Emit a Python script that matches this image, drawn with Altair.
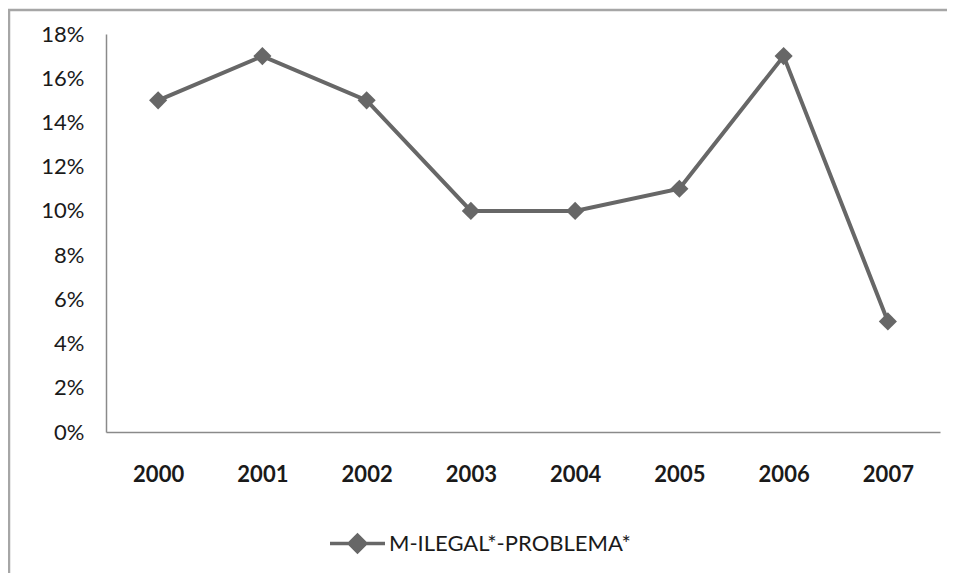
import altair as alt
import pandas as pd

years = ["2000", "2001", "2002", "2003", "2004", "2005", "2006", "2007"]
values = [0.15, 0.17, 0.15, 0.10, 0.10, 0.11, 0.17, 0.05]
series = "M-ILEGAL*-PROBLEMA*"
y_ticks = [0, 0.02, 0.04, 0.06, 0.08, 0.10, 0.12, 0.14, 0.16, 0.18]

df = pd.DataFrame({"year": years, "value": values, "series": [series] * len(years)})

FONT = "Lato"
GRAY = "#676767"

x = alt.X("year:O", scale=alt.Scale(type="point", padding=0.5),
          axis=alt.Axis(title=None, labelAngle=0, ticks=False, domainColor="#8a8a8a",
                        domainWidth=1.5, labelPadding=32, labelFontSize=22,
                        labelFont=FONT, labelFontWeight="bold", labelColor="#1a1a1a"))
y = alt.Y("value:Q", scale=alt.Scale(domain=[0, 0.18], nice=False),
          axis=alt.Axis(title=None, values=y_ticks, format=".0%", ticks=False, grid=False,
                        domainColor="#8a8a8a", domainWidth=1.5, labelPadding=22,
                        labelFontSize=22, labelFont=FONT, labelColor="#1a1a1a"))

color = alt.Color("series:N", scale=alt.Scale(range=[GRAY]),
                  legend=alt.Legend(title=None, orient="none", legendX=222, legendY=480,
                                    symbolType="M-1,0L1,0M0,-0.3L0.3,0L0,0.3L-0.3,0Z",
                                    symbolSize=3025, symbolStrokeWidth=3.5,
                                    symbolFillColor=GRAY, symbolStrokeColor=GRAY,
                                    labelFontSize=22, labelFont=FONT, labelColor="#1a1a1a",
                                    labelOffset=2, labelLimit=0))

line = alt.Chart(df).mark_line(strokeWidth=4).encode(x=x, y=y, color=color)
points = alt.Chart(df).mark_point(shape="diamond", filled=True, size=330, opacity=1).encode(
    x=x, y=y, color=alt.Color("series:N", scale=alt.Scale(range=[GRAY]), legend=None))

base = alt.Chart(pd.DataFrame({"a": [0]}))
top_border = base.mark_rule(stroke="#a6a6a6", strokeWidth=2.5, clip=False).encode(
    x=alt.value(-98), x2=alt.value(841), y=alt.value(-24))
left_border = base.mark_rule(stroke="#a6a6a6", strokeWidth=2.5, clip=False).encode(
    x=alt.value(-97), y=alt.value(-25), y2=alt.value(539))

chart = alt.layer(top_border, left_border, line, points).properties(
    width=834, height=398,
    padding={"left": 98, "top": 26, "right": 7, "bottom": 141},
    autosize=alt.AutoSizeParams(type="none"),
).configure_view(stroke=None)

chart.save("out.html", embed_options={"renderer": "svg", "actions": False})
